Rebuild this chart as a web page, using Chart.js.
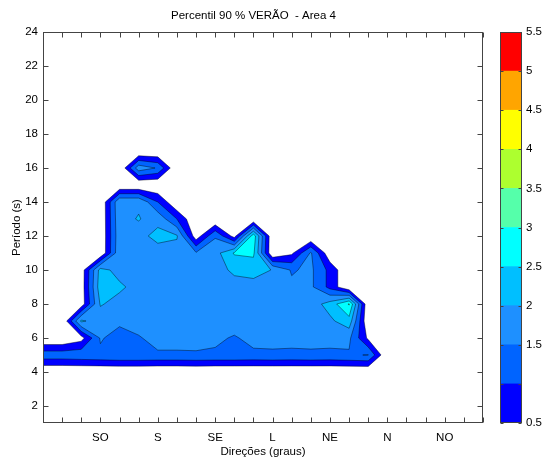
<!DOCTYPE html>
<html>
<head>
<meta charset="utf-8">
<script src="https://cdn.jsdelivr.net/npm/chart.js@4.4.1/dist/chart.umd.min.js"></script>
<style>
  html, body { margin: 0; padding: 0; background: #fff; }
  #wrap { position: relative; width: 544px; height: 463px; }
  #main-chart { position: absolute; left: 0; top: 0; }
  #barra-chart { position: absolute; left: 490px; top: 0; }
</style>
</head>
<body>
<div id="wrap">
  <canvas id="main-chart" width="544" height="463"></canvas>
  <canvas id="barra-chart" width="54" height="463"></canvas>
</div>
<script>
// --- DADOS ---
const direcoes = [0, 15, 30, 45, 60, 75, 90, 105, 120, 135, 150, 165, 180, 195, 210, 225, 240, 255, 270, 285, 300, 315, 330, 345];
const rotulosDir = ['', '', '', 'SO', '', '', 'S', '', '', 'SE', '', '', 'L', '', '', 'NE', '', '', 'N', '', '', 'NO', '', ''];
const periodos = [1, 2, 3, 4, 5, 6, 7, 8, 9, 10, 11, 12, 13, 14, 15, 16, 17, 18, 19, 20, 21, 22, 23, 24];

// altura (percentil 90) por periodo, uma linha por periodo, colunas = direcoes
const t01 = [0, 0, 0, 0, 0, 0, 0, 0, 0, 0, 0, 0, 0, 0, 0, 0, 0, 0, 0, 0, 0, 0, 0, 0];
const t02 = [0, 0, 0, 0, 0, 0, 0, 0, 0, 0, 0, 0, 0, 0, 0, 0, 0, 0, 0, 0, 0, 0, 0, 0];
const t03 = [0, 0, 0, 0, 0, 0, 0, 0, 0, 0, 0, 0, 0, 0, 0, 0, 0, 0, 0, 0, 0, 0, 0, 0];
const t04 = [0, 0, 0, 0, 0, 0, 0, 0, 0, 0, 0, 0, 0, 0, 0, 0, 0, 0, 0, 0, 0, 0, 0, 0];
const t05 = [1.3, 1.3, 1.35, 1.4, 1.45, 1.45, 1.42, 1.42, 1.45, 1.42, 1.42, 1.4, 1.42, 1.4, 1.42, 1.4, 1.45, 1.52, 0, 0, 0, 0, 0, 0];
const t06 = [0, 0, 0.3, 1.55, 1.3, 1.45, 1.7, 1.7, 1.65, 1.6, 1.45, 1.65, 1.65, 1.65, 1.65, 1.65, 1.6, 0.4, 0, 0, 0, 0, 0, 0];
const t07 = [0, 0, 2.1, 1.7, 1.6, 1.75, 1.8, 1.8, 1.75, 1.75, 1.75, 1.75, 1.75, 1.75, 1.75, 1.9, 2.3, 0, 0, 0, 0, 0, 0, 0];
const t08 = [0, 0, 0.2, 2.05, 1.8, 1.8, 1.8, 1.8, 1.8, 1.8, 1.8, 1.8, 1.8, 1.8, 1.75, 2.2, 3.05, 0, 0, 0, 0, 0, 0, 0];
const t09 = [0, 0, 0.2, 2.3, 2.1, 1.8, 1.8, 1.8, 1.8, 1.75, 1.8, 1.8, 1.7, 1.6, 1.6, 0.85, 0, 0, 0, 0, 0, 0, 0, 0];
const t10 = [0, 0, 0.2, 2.2, 1.8, 1.8, 1.8, 1.8, 1.8, 1.8, 2.1, 2.2, 1.98, 1.45, 1.6, 0.85, 0, 0, 0, 0, 0, 0, 0, 0];
const t11 = [0, 0, 0, 0, 1.9, 1.85, 1.8, 1.8, 1.55, 1.8, 2.55, 2.6, 0, 0.4, 1.56, 0.1, 0, 0, 0, 0, 0, 0, 0, 0];
const t12 = [0, 0, 0, 0, 1.85, 1.85, 2.15, 2.05, 0.2, 1.45, 0.3, 2.8, 0, 0, 0, 0, 0, 0, 0, 0, 0, 0, 0, 0];
const t13 = [0, 0, 0, 0, 1.9, 2.02, 1.85, 1.0, 0, 0, 0, 0, 0, 0, 0, 0, 0, 0, 0, 0, 0, 0, 0, 0];
const t14 = [0, 0, 0, 0, 1.95, 1.95, 1.0, 0, 0, 0, 0, 0, 0, 0, 0, 0, 0, 0, 0, 0, 0, 0, 0, 0];
const t15 = [0, 0, 0, 0, 0, 0, 0, 0, 0, 0, 0, 0, 0, 0, 0, 0, 0, 0, 0, 0, 0, 0, 0, 0];
const t16 = [0, 0, 0, 0, 0, 1.8, 1.45, 0, 0, 0, 0, 0, 0, 0, 0, 0, 0, 0, 0, 0, 0, 0, 0, 0];
const t17 = [0, 0, 0, 0, 0, 0, 0, 0, 0, 0, 0, 0, 0, 0, 0, 0, 0, 0, 0, 0, 0, 0, 0, 0];
const t18 = [0, 0, 0, 0, 0, 0, 0, 0, 0, 0, 0, 0, 0, 0, 0, 0, 0, 0, 0, 0, 0, 0, 0, 0];
const t19 = [0, 0, 0, 0, 0, 0, 0, 0, 0, 0, 0, 0, 0, 0, 0, 0, 0, 0, 0, 0, 0, 0, 0, 0];
const t20 = [0, 0, 0, 0, 0, 0, 0, 0, 0, 0, 0, 0, 0, 0, 0, 0, 0, 0, 0, 0, 0, 0, 0, 0];
const t21 = [0, 0, 0, 0, 0, 0, 0, 0, 0, 0, 0, 0, 0, 0, 0, 0, 0, 0, 0, 0, 0, 0, 0, 0];
const t22 = [0, 0, 0, 0, 0, 0, 0, 0, 0, 0, 0, 0, 0, 0, 0, 0, 0, 0, 0, 0, 0, 0, 0, 0];
const t23 = [0, 0, 0, 0, 0, 0, 0, 0, 0, 0, 0, 0, 0, 0, 0, 0, 0, 0, 0, 0, 0, 0, 0, 0];
const t24 = [0, 0, 0, 0, 0, 0, 0, 0, 0, 0, 0, 0, 0, 0, 0, 0, 0, 0, 0, 0, 0, 0, 0, 0];
const grade = [t01, t02, t03, t04, t05, t06, t07, t08, t09, t10, t11, t12,
               t13, t14, t15, t16, t17, t18, t19, t20, t21, t22, t23, t24];

const niveis = [0.5, 1, 1.5, 2, 2.5, 3, 3.5, 4, 4.5, 5, 5.5];
const rotulosBarra = ['0.5', '', '1.5', '2', '2.5', '3', '3.5', '4', '4.5', '5', '5.5'];
const cores = ['#0000ff', '#0064ff', '#1e90ff', '#00bfff', '#00ffff',
               '#55ffaa', '#adff2f', '#ffff00', '#ffa500', '#ff0000'];

const fonte = { family: '"Liberation Sans", Arial, Helvetica, sans-serif', size: 11.5 };
const corTexto = '#000';
const corEixo = '#444';

// --- CONTOURF (marching squares, preenchido por nivel) ---
function poligonosCelula(i, j, nivel) {
  const cantos = [[i, j], [i + 1, j], [i + 1, j + 1], [i, j + 1]];
  const z = cantos.map(([a, b]) => grade[b][a]);
  const dentro = z.map(v => v >= nivel);
  const ponto = c => ({ d: direcoes[cantos[c][0]], p: periodos[cantos[c][1]], corte: false });
  const corte = c => {
    const c2 = (c + 1) % 4;
    const t = (nivel - z[c]) / (z[c2] - z[c]);
    return {
      d: direcoes[cantos[c][0]] + t * (direcoes[cantos[c2][0]] - direcoes[cantos[c][0]]),
      p: periodos[cantos[c][1]] + t * (periodos[cantos[c2][1]] - periodos[cantos[c][1]]),
      corte: true
    };
  };
  const nCortes = [0, 1, 2, 3].filter(c => dentro[c] !== dentro[(c + 1) % 4]).length;
  const centro = (z[0] + z[1] + z[2] + z[3]) / 4;
  // sela com centro abaixo do nivel: separa os dois cantos
  if (nCortes === 4 && centro < nivel) {
    return [0, 1, 2, 3].filter(c => dentro[c]).map(c => [ponto(c), corte(c), corte((c + 3) % 4)]);
  }
  const pts = [];
  for (let c = 0; c < 4; c++) {
    if (dentro[c]) pts.push(ponto(c));
    if (dentro[c] !== dentro[(c + 1) % 4]) pts.push(corte(c));
  }
  return pts.length >= 3 ? [pts] : [];
}

const contornoPlugin = {
  id: 'contorno',
  beforeDatasetsDraw(chart) {
    const { ctx, chartArea, scales: { x, y } } = chart;
    ctx.save();
    ctx.beginPath();
    ctx.rect(chartArea.left, chartArea.top, chartArea.width, chartArea.height);
    ctx.clip();

    const linhas = [];
    cores.forEach((cor, k) => {
      ctx.beginPath();
      for (let j = 0; j < periodos.length - 1; j++) {
        for (let i = 0; i < direcoes.length - 1; i++) {
          poligonosCelula(i, j, niveis[k]).forEach(pts => {
            pts.forEach((q, n) => {
              const px = x.getPixelForValue(q.d);
              const py = y.getPixelForValue(q.p);
              if (n === 0) ctx.moveTo(px, py); else ctx.lineTo(px, py);
            });
            ctx.closePath();
            for (let n = 0; n < pts.length; n++) {
              const a = pts[n];
              const b = pts[(n + 1) % pts.length];
              if (a.corte && b.corte) linhas.push([a, b]);
            }
          });
        }
      }
      ctx.fillStyle = cor;
      ctx.fill();
    });

    ctx.beginPath();
    linhas.forEach(([a, b]) => {
      ctx.moveTo(x.getPixelForValue(a.d), y.getPixelForValue(a.p));
      ctx.lineTo(x.getPixelForValue(b.d), y.getPixelForValue(b.p));
    });
    ctx.strokeStyle = 'rgba(0,0,0,0.7)';
    ctx.lineWidth = 0.6;
    ctx.stroke();
    ctx.restore();
  }
};

// moldura estilo matlab, ticks para dentro nos 4 lados
function desenhaMoldura(chart, tam, usaX) {
  const { ctx, chartArea: a, scales } = chart;
  const l = Math.round(a.left) + 0.5, r = Math.round(a.right) - 0.5;
  const t = Math.round(a.top) + 0.5, b = Math.round(a.bottom) - 0.5;
  ctx.save();
  ctx.strokeStyle = corEixo;
  ctx.lineWidth = 1;
  ctx.beginPath();
  if (usaX) {
    scales.x.ticks.forEach(tk => {
      const px = Math.round(scales.x.getPixelForValue(tk.value)) + 0.5;
      ctx.moveTo(px, b); ctx.lineTo(px, b - tam);
      ctx.moveTo(px, t); ctx.lineTo(px, t + tam);
    });
  }
  scales.y.ticks.forEach(tk => {
    const py = Math.round(scales.y.getPixelForValue(tk.value)) + 0.5;
    ctx.moveTo(l, py); ctx.lineTo(l + tam, py);
    ctx.moveTo(r, py); ctx.lineTo(r - tam, py);
  });
  ctx.stroke();
  ctx.strokeRect(l, t, r - l, b - t);
  ctx.restore();
}

const molduraPrincipal = { id: 'molduraPrincipal', afterDraw: c => desenhaMoldura(c, 5, true) };
const molduraBarra = { id: 'molduraBarra', afterDraw: c => desenhaMoldura(c, 3, false) };

// --- GRAFICO PRINCIPAL ---
new Chart(document.getElementById('main-chart'), {
  type: 'scatter',
  data: { datasets: [{ label: 'Hs', data: [] }] },
  options: {
    responsive: false,
    animation: false,
    devicePixelRatio: 1,
    // padding esquerdo so para centrar o titulo como no original
    layout: { padding: { top: 0, left: 24, right: 61, bottom: 0 } },
    plugins: {
      legend: { display: false },
      tooltip: { enabled: false },
      title: {
        display: true,
        text: 'Percentil 90 % VERÃO  - Area 4',
        color: corTexto,
        font: { ...fonte, weight: 'normal' },
        padding: { top: 9.4, bottom: 8.8 }
      }
    },
    scales: {
      x: {
        type: 'linear',
        min: 0,
        max: 345,
        ticks: {
          stepSize: 15,
          autoSkip: false,
          maxRotation: 0,
          padding: 8,
          color: corTexto,
          font: fonte,
          callback: v => rotulosDir[direcoes.indexOf(v)] || ''
        },
        grid: { display: false, drawTicks: false },
        border: { display: false },
        title: { display: true, text: 'Direções (graus)', color: corTexto, font: fonte, padding: { top: 0, bottom: 4 } },
        afterFit: s => { s.height = 40; }
      },
      y: {
        type: 'linear',
        min: 1,
        max: 24,
        ticks: {
          stepSize: 2,
          includeBounds: false,
          padding: 5,
          color: corTexto,
          font: fonte
        },
        grid: { display: false, drawTicks: false },
        border: { display: false },
        title: { display: true, text: 'Período (s)', color: corTexto, font: fonte, padding: { top: -14, bottom: 0 } },
        afterFit: s => { s.width = 19; }
      }
    }
  },
  plugins: [contornoPlugin, molduraPrincipal]
});

// --- BARRA DE CORES ---
new Chart(document.getElementById('barra-chart'), {
  type: 'bar',
  data: {
    labels: ['Hs'],
    datasets: cores.map((cor, k) => ({
      label: rotulosBarra[k],
      data: [[niveis[k], niveis[k + 1]]],
      backgroundColor: cor,
      borderWidth: 0,
      grouped: false,
      barPercentage: 1,
      categoryPercentage: 1
    }))
  },
  options: {
    responsive: false,
    animation: false,
    devicePixelRatio: 1,
    layout: { padding: { top: 32, bottom: 40, left: 10, right: 0 } },
    plugins: { legend: { display: false }, tooltip: { enabled: false } },
    scales: {
      x: { display: false },
      y: {
        position: 'right',
        min: 0.5,
        max: 5.5,
        ticks: {
          stepSize: 0.5,
          padding: 4,
          color: corTexto,
          font: fonte,
          callback: (v, i) => rotulosBarra[i]
        },
        grid: { display: false, drawTicks: false },
        border: { display: false },
        afterFit: s => { s.width = 22; }
      }
    }
  },
  plugins: [molduraBarra]
});
</script>
</body>
</html>
